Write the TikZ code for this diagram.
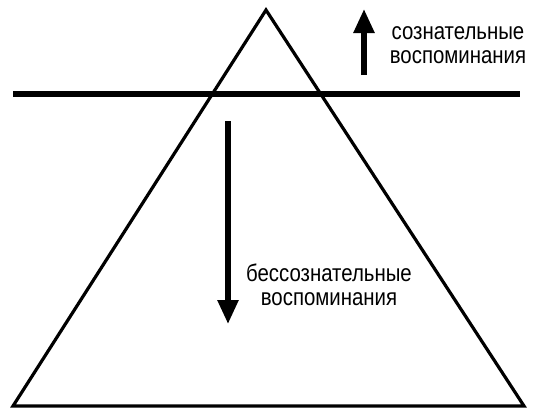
\documentclass[tikz,border=0pt]{standalone}
\usepackage{fontspec}
\setmainfont{Liberation Sans}
\newfontfamily\cond[FakeStretch=0.85]{Liberation Sans}
\usetikzlibrary{arrows.meta}
\begin{document}
\begin{tikzpicture}[x=1pt,y=-1pt,
  shape line/.style={line width=3.2pt,line join=miter},
  bigarrow/.style={line width=5.5pt,-{Triangle[width=20pt,length=24pt]}},
  lbl/.style={font=\cond\fontsize{24}{24.5}\selectfont,align=center,inner sep=0pt}]
\useasboundingbox (0,0) rectangle (538,418);
\coordinate (apex) at (266,10);
\coordinate (bl) at (13,406);
\coordinate (br) at (524,406);
\draw[shape line] (apex) -- (br) -- (bl) -- cycle;
\coordinate (hl) at (13,93.5);
\coordinate (hr) at (520,93.5);
\draw[line width=6pt] (hl) -- (hr);
\coordinate (ua) at (364,75);
\coordinate (ub) at (364,9);
\draw[bigarrow] (ua) -- (ub);
\coordinate (da) at (228,121);
\coordinate (db) at (228,324);
\draw[bigarrow] (da) -- (db);
\node[lbl] (top) at (458,45) {сознательные\\воспоминания};
\node[lbl] (bot) at (329,285) {бессознательные\\воспоминания};
\end{tikzpicture}
\end{document}
